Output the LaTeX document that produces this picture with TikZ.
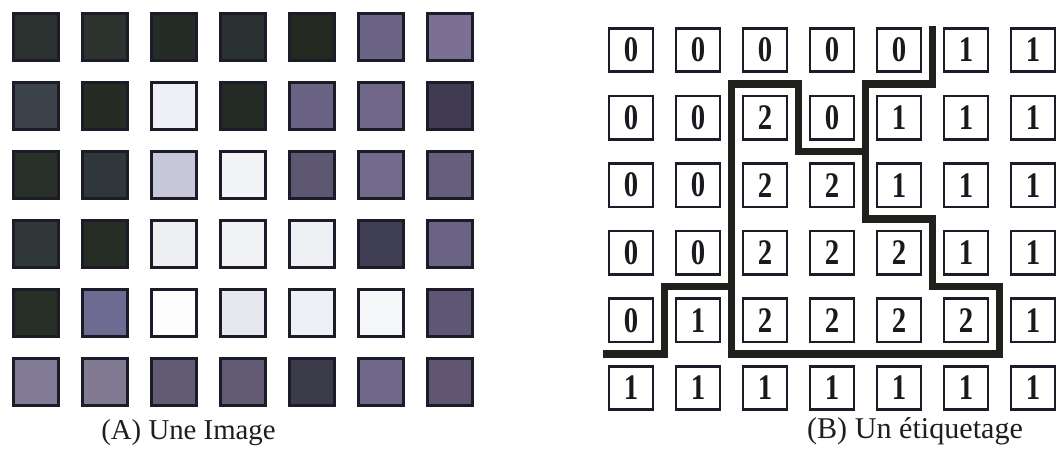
\documentclass[tikz,border=0pt]{standalone}
\usepackage{graphicx}
\usepackage{fontspec}
\setmainfont{Liberation Serif}
\definecolor{frame}{HTML}{1C1C28}
\definecolor{linec}{HTML}{1E211C}
\definecolor{capt}{HTML}{1E1E22}
\definecolor{digit}{HTML}{1A1A1E}
\begin{document}
\begin{tikzpicture}[x=0.75pt,y=-0.75pt,
  pix/.style={draw=frame,line width=2.1pt,minimum width=34pt,minimum height=34.7pt,inner sep=0pt,outer sep=0pt},
  lab/.style={draw=frame,line width=1.9pt,fill=white,minimum width=33.3pt,minimum height=32.5pt,inner sep=0pt,outer sep=0pt,text=digit,font=\bfseries\fontsize{27}{27}\selectfont},
  caption/.style={anchor=base,font=\fontsize{21.6}{24}\selectfont,text=capt,inner sep=0pt},
  border/.style={line width=5.6pt,draw=linec,line join=miter,line cap=butt}]
\useasboundingbox (0,0) rectangle (1056,449);
% (A) image grid
\foreach \row [count=\r] in {
  {2B3230,2D332F,252B26,283030,23291F,6C6485,7B7093},
  {3B424A,262C24,EEF0F6,242B24,6A6282,716889,403B52},
  {29302A,30373A,C7C7DA,F3F4F8,5D5771,746B8C,675E7E},
  {30383A,262D25,EDEFF3,F1F2F6,EFF0F4,3F3D51,6B6383},
  {283025,6F6A92,FDFDFD,E6E8EE,EFF0F5,F6F7F9,5F5676},
  {817B96,827A93,625B73,625A73,3C3B4A,70678A,615672}} {
  \foreach \c [count=\k] in \row {
    \definecolor{cell}{HTML}{\c}
    \node[pix,fill=cell] (L-\r-\k) at ({36+69*(\k-1)},{37+69*(\r-1)}) {};
  }
}
% (B) label grid
\foreach \row [count=\r] in {
  {0,0,0,0,0,1,1},
  {0,0,2,0,1,1,1},
  {0,0,2,2,1,1,1},
  {0,0,2,2,2,1,1},
  {0,1,2,2,2,2,1},
  {1,1,1,1,1,1,1}} {
  \foreach \v [count=\k] in \row {
    \node[lab] (R-\r-\k) at ({631+67*(\k-1)},{50+67.6*(\r-1)}) {\scalebox{0.8}[1]{\v}};
  }
}
% region boundaries
\coordinate (topend) at (932.5,26);
\coordinate (leftend) at (603,354.2);
\draw[border] (topend) -- (932.5,83.8) -- (865.5,83.8) -- (865.5,219) -- (932.5,219)
  -- (932.5,286.6) -- (999.5,286.6) -- (999.5,354.2) -- (731.5,354.2) -- (731.5,83.8)
  -- (798.5,83.8) -- (798.5,151.4) -- (865.5,151.4);
\draw[border] (leftend) -- (664.5,354.2) -- (664.5,286.6) -- (731.5,286.6);
% captions
\node[caption] (capA) at (188.5,439) {(A) Une Image};
\node[caption,font=\fontsize{22.6}{24}\selectfont] (capB) at (915,438) {(B) Un étiquetage};
\end{tikzpicture}
\end{document}
